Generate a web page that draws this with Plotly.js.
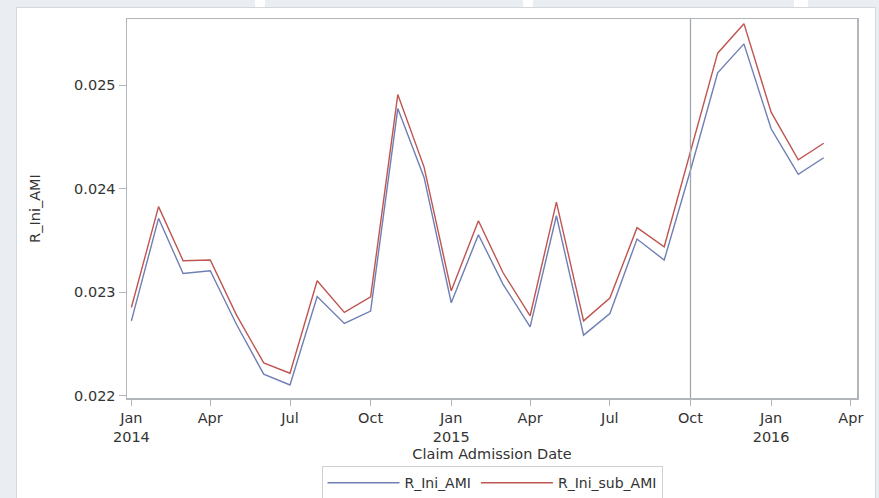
<!DOCTYPE html>
<html>
<head>
<meta charset="utf-8">
<script src="https://cdn.plot.ly/plotly-3.0.1.min.js"></script>
<style>
  html, body { margin: 0; padding: 0; width: 879px; height: 498px; overflow: hidden; background: #eaeef3; }
  #panel { position: absolute; left: 16px; top: 7px; width: 860px; height: 500px; background: #ffffff; border: 1px solid #d3d8dc; box-sizing: border-box; }
  .gap { position: absolute; top: 0; height: 7px; background: #ffffff; }
  #chart { position: absolute; left: 0; top: 0; width: 879px; height: 498px; }
</style>
</head>
<body>
<div class="gap" style="left:255px;width:10px;"></div>
<div class="gap" style="left:523px;width:10px;"></div>
<div class="gap" style="left:794px;width:14px;"></div>
<div id="panel"></div>
<div id="chart"></div>
<script>
const months = [
  '2014-01-01','2014-02-01','2014-03-01','2014-04-01','2014-05-01','2014-06-01',
  '2014-07-01','2014-08-01','2014-09-01','2014-10-01','2014-11-01','2014-12-01',
  '2015-01-01','2015-02-01','2015-03-01','2015-04-01','2015-05-01','2015-06-01',
  '2015-07-01','2015-08-01','2015-09-01','2015-10-01','2015-11-01','2015-12-01',
  '2016-01-01','2016-02-01','2016-03-01'
];
const rIniAMI = [
  0.022725, 0.023715, 0.023183, 0.023209, 0.022690, 0.022210,
  0.022106, 0.022960, 0.022700, 0.022820, 0.024775, 0.024110,
  0.022900, 0.023557, 0.023080, 0.022667, 0.023740, 0.022587,
  0.022796, 0.023515, 0.023312, 0.024180, 0.025120, 0.025400,
  0.024580, 0.024140, 0.024300
];
const rIniSubAMI = [
  0.022854, 0.023828, 0.023306, 0.023312, 0.022780, 0.022319,
  0.022219, 0.023112, 0.022806, 0.022957, 0.024910, 0.024210,
  0.023015, 0.023692, 0.023192, 0.022774, 0.023872, 0.022725,
  0.022945, 0.023625, 0.023440, 0.024350, 0.025310, 0.025595,
  0.024740, 0.024280, 0.024440
];
const xTickVals = ['2014-01-01','2014-04-01','2014-07-01','2014-10-01','2015-01-01','2015-04-01','2015-07-01','2015-10-01','2016-01-01','2016-04-01'];
const xTickText = ['Jan<br>2014','Apr','Jul','Oct','Jan<br>2015','Apr','Jul','Oct','Jan<br>2016','Apr'];
const yTickVals = [0.022, 0.023, 0.024, 0.025];
const yTickText = ['0.022','0.023','0.024','0.025'];
const refLineDate = '2015-10-01';

const font = { family: 'DejaVu Sans, Liberation Sans, Arial, sans-serif', size: 14.5, color: '#333333' };
const legendFont = { family: 'DejaVu Sans, Liberation Sans, Arial, sans-serif', size: 14, color: '#333333' };

const traces = [
  { x: months, y: rIniAMI, name: 'R_Ini_AMI', type: 'scatter', mode: 'lines',
    line: { color: '#6F7EB3', width: 1.4 } },
  { x: months, y: rIniSubAMI, name: 'R_Ini_sub_AMI', type: 'scatter', mode: 'lines',
    line: { color: '#BE5550', width: 1.4 } }
];

const layout = {
  width: 879, height: 498,
  margin: { l: 127, r: 22, t: 19, b: 100, autoexpand: false },
  paper_bgcolor: 'rgba(0,0,0,0)',
  plot_bgcolor: '#ffffff',
  font: font,
  showlegend: true,
  xaxis: {
    type: 'date',
    range: ['2013-12-27', '2016-04-08'],
    tickmode: 'array', tickvals: xTickVals, ticktext: xTickText,
    ticks: 'outside', ticklen: 6, tickcolor: '#b0b6ba', tickwidth: 1,
    showline: true, linecolor: '#b0b6ba', linewidth: 1.5, mirror: true,
    showgrid: false, zeroline: false, automargin: false,
    tickfont: font,
    title: { text: 'Claim Admission Date', font: font, standoff: 5 }
  },
  yaxis: {
    range: [0.02198, 0.02564],
    tickmode: 'array', tickvals: yTickVals, ticktext: yTickText,
    ticks: 'outside', ticklen: 7, tickcolor: '#b0b6ba', tickwidth: 1,
    showline: true, linecolor: '#b0b6ba', linewidth: 1.5, mirror: true,
    showgrid: false, zeroline: false, automargin: false,
    tickfont: font,
    title: { text: 'R_Ini_AMI', font: font, standoff: 30 }
  },
  legend: {
    orientation: 'h', x: 0.5, xanchor: 'center', y: -0.18, yanchor: 'top',
    bgcolor: '#ffffff', bordercolor: '#d0d0d0', borderwidth: 1,
    font: legendFont, itemwidth: 72, tracegroupgap: 0, valign: 'middle'
  },
  shapes: [
    { type: 'line', xref: 'x', yref: 'paper', x0: refLineDate, x1: refLineDate, y0: 0, y1: 1,
      line: { color: '#a0a8ad', width: 1.3 } }
  ]
};

Plotly.newPlot('chart', traces, layout, { displayModeBar: false, staticPlot: true });
</script>
</body>
</html>
